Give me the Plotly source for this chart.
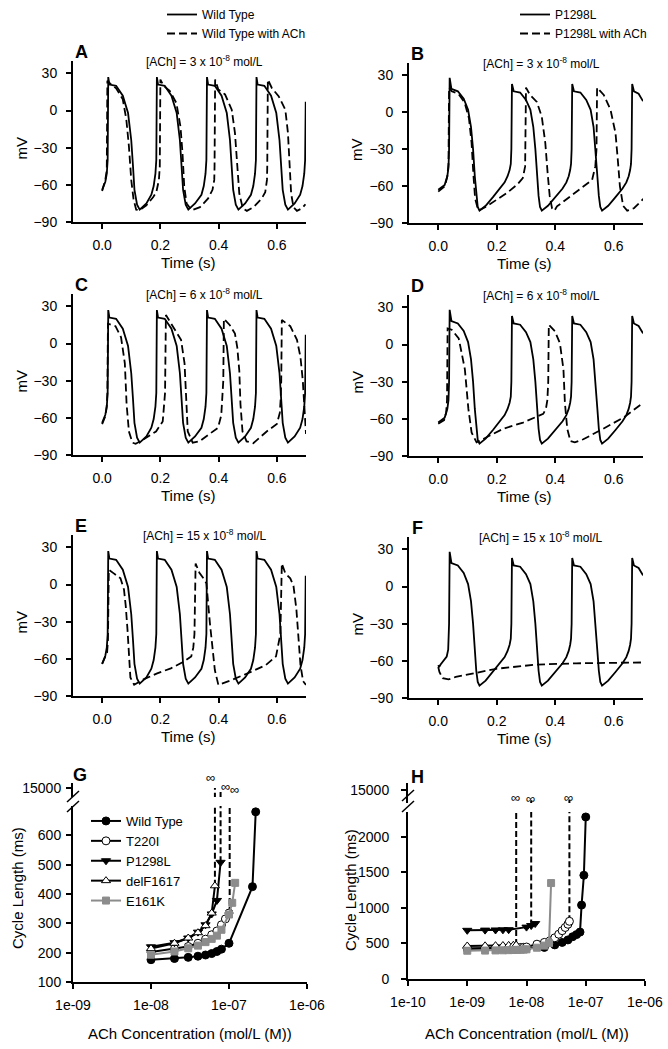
import math
import plotly.graph_objects as go

# ------------------------------------------------------------------ data
TIME_TICKS = [0.0, 0.2, 0.4, 0.6]
MV_TICKS = [-90, -60, -30, 0, 30]

# Wild type (control) action potentials, panels A, C, E
WT_T = [0.000, 0.011, 0.016, 0.019, 0.021, 0.025, 0.048, 0.071, 0.089, 0.100, 0.106, 0.111, 0.120, 0.129,
        0.152, 0.169, 0.177, 0.183,
        0.186, 0.188, 0.192, 0.215, 0.238, 0.256, 0.267, 0.273, 0.278, 0.287, 0.296, 0.319, 0.341, 0.349, 0.355,
        0.358, 0.360, 0.364, 0.387, 0.410, 0.428, 0.439, 0.445, 0.450, 0.459, 0.468, 0.491, 0.511, 0.519, 0.525,
        0.528, 0.530, 0.534, 0.557, 0.580, 0.598, 0.609, 0.615, 0.620, 0.629, 0.638, 0.661, 0.680, 0.688, 0.694,
        0.697, 0.699]
WT_V = [-64, -57.5, -51, -40, 27, 21, 20, 12, -2, -24, -45, -64, -76, -80,
        -75, -68, -61, -51,
        -40, 27, 21, 20, 12, -2, -24, -45, -64, -76, -80, -75, -68, -61, -51,
        -40, 27, 21, 20, 12, -2, -24, -45, -64, -76, -80, -75, -68, -61, -51,
        -40, 27, 21, 20, 12, -2, -24, -45, -64, -76, -80, -75, -68, -61, -51,
        -40, 7]

# P1298L action potentials, panels B, D (F has its own start)
P_T = [0.000, 0.022, 0.031, 0.035, 0.037, 0.039, 0.045, 0.067, 0.087, 0.102, 0.112, 0.119, 0.125, 0.130, 0.135,
       0.141, 0.162, 0.187, 0.212, 0.227, 0.237, 0.244, 0.248,
       0.250, 0.252, 0.258, 0.280, 0.300, 0.315, 0.325, 0.332, 0.338, 0.343, 0.348, 0.354, 0.375, 0.400, 0.425,
       0.438, 0.446, 0.451, 0.454,
       0.456, 0.458, 0.464, 0.486, 0.506, 0.521, 0.531, 0.538, 0.544, 0.549, 0.554, 0.560, 0.581, 0.606, 0.630,
       0.643, 0.651, 0.656, 0.659,
       0.661, 0.663, 0.669, 0.685, 0.700]
P_V = [-63, -59, -52, -45, -30, 28, 19, 17, 11, 2, -12, -30, -52, -68, -77,
       -80, -76, -69, -62, -57, -52, -47, -42,
       -30, 23, 17, 16, 10, 2, -12, -30, -52, -68, -77, -80, -76, -69, -62,
       -57, -52, -47, -42,
       -30, 23, 17, 16, 10, 2, -12, -30, -52, -68, -77, -80, -76, -69, -62,
       -57, -52, -47, -42,
       -30, 23, 17, 15, 9]
PF_START_T = [0.000, 0.003, 0.008, 0.015, 0.029, 0.034]
PF_START_V = [-63.5, -65, -63, -60.5, -56.5, -51]

# With ACh (dashed)
A_D_T = [0.000, 0.011, 0.016, 0.018, 0.031, 0.048, 0.071, 0.083, 0.092, 0.100, 0.108, 0.117, 0.129, 0.152,
         0.175, 0.186, 0.195, 0.198, 0.200, 0.211, 0.232, 0.255, 0.269, 0.276, 0.282, 0.290, 0.307, 0.336,
         0.364, 0.379, 0.385, 0.386, 0.388, 0.399, 0.422, 0.445, 0.456, 0.464, 0.471, 0.483, 0.497, 0.520,
         0.548, 0.560, 0.566, 0.567, 0.569, 0.583, 0.606, 0.629, 0.638, 0.644, 0.649, 0.657, 0.669, 0.686, 0.698]
A_D_V = [-65, -56, -48, 24, 21, 18, 9, -7, -29, -56, -72, -80, -80.5, -76.5,
         -70, -66, -56, -45, 25, 20, 16, 6, -13, -34.5, -61.6, -75, -80.5, -78,
         -71, -64, -56, -45, 25, 17, 13, 0.7, -18, -45, -67, -79, -81, -78,
         -71, -66, -56, -45, 25, 18, 11.6, 0.7, -18, -45, -67, -78, -81, -79, -75.7]

B_D_T = [0.000, 0.023, 0.031, 0.035, 0.037, 0.046, 0.069, 0.090, 0.105, 0.114, 0.120, 0.126, 0.137, 0.166,
         0.200, 0.234, 0.269, 0.289, 0.297, 0.300, 0.314, 0.337, 0.354, 0.366, 0.374, 0.381, 0.389, 0.397,
         0.406, 0.451, 0.497, 0.526, 0.537, 0.541, 0.543, 0.566, 0.589, 0.606, 0.614, 0.621, 0.632, 0.646,
         0.669, 0.703]
B_D_V = [-64.5, -60, -52, -42, 20, 17, 15, 8, -5, -25, -50, -70, -80, -76.5,
         -71, -65.7, -59, -53.6, -44, 20, 14, 8.4, -3.7, -25, -49.5, -68, -78, -80,
         -76.5, -68.4, -60, -55, -44, -30, 20, 14, 2, -17, -39, -60, -76, -80,
         -78, -70]

C_D_T = [0.000, 0.012, 0.016, 0.018, 0.020, 0.046, 0.065, 0.078, 0.084, 0.092, 0.104, 0.115, 0.138, 0.185,
         0.208, 0.213, 0.216, 0.219, 0.242, 0.271, 0.283, 0.288, 0.294, 0.311, 0.334, 0.363, 0.398, 0.409,
         0.413, 0.416, 0.418, 0.438, 0.456, 0.464, 0.471, 0.475, 0.482, 0.496, 0.519, 0.565, 0.600, 0.610,
         0.613, 0.615, 0.617, 0.646, 0.669, 0.681, 0.689, 0.694, 0.700]
C_D_V = [-65, -58, -50, -40, 16, 14, 5, -16, -49, -71, -80, -81, -78, -71,
         -63, -52, -40, 23, 14, 3, -16, -44, -71, -80, -79, -74, -68, -58,
         -45, -30, 20, 15, 8, -3, -22, -49, -71, -79, -80.5, -71, -65, -56,
         -45, -30, 19, 14, 3, -11, -30, -52, -73]

D_D_T = [0.000, 0.020, 0.027, 0.030, 0.032, 0.046, 0.070, 0.091, 0.103, 0.114, 0.131, 0.165, 0.222, 0.290,
         0.359, 0.368, 0.373, 0.376, 0.378, 0.399, 0.416, 0.428, 0.433, 0.441, 0.452, 0.467, 0.496, 0.564,
         0.633, 0.701]
D_D_V = [-64, -61, -55, -45, 13, 12, 5, -20, -52, -71, -79, -75, -68, -63,
         -56, -52, -45, -30, 16, 10.7, 1, -20, -47, -68, -78, -79, -76.5, -68,
         -59, -47]

E_D_T = [0.000, 0.017, 0.020, 0.023, 0.040, 0.063, 0.075, 0.081, 0.087, 0.092, 0.097, 0.110, 0.142, 0.189,
         0.236, 0.282, 0.306, 0.313, 0.317, 0.321, 0.334, 0.348, 0.358, 0.370, 0.378, 0.387, 0.399, 0.446,
         0.516, 0.562, 0.597, 0.603, 0.612, 0.617, 0.629, 0.646, 0.657, 0.667, 0.675, 0.681, 0.690, 0.700]
E_D_V = [-64, -55, -45, 12, 9, 5, -4, -17, -36, -58, -75, -81, -76.6, -71.7,
         -67.7, -62, -58, -51, -40, 17, 9.4, 5, 1, -31, -47, -69, -81, -77,
         -70, -65, -58, -51, -40, 17, 9, 5, -1, -20, -45, -65, -78, -81]

F_D_T = [0.000, 0.004, 0.015, 0.035, 0.060, 0.198, 0.335, 0.472, 0.700]
F_D_V = [-65, -69, -74, -75, -73, -66.4, -63, -62, -61.3]

PANEL_TITLES = ["[ACh] = 3 x 10<sup>-8</sup> mol/L", "[ACh] = 3 x 10<sup>-8</sup> mol/L",
                "[ACh] = 6 x 10<sup>-8</sup> mol/L", "[ACh] = 6 x 10<sup>-8</sup> mol/L",
                "[ACh] = 15 x 10<sup>-8</sup> mol/L", "[ACh] = 15 x 10<sup>-8</sup> mol/L"]

# Cycle length vs ACh, panel G
G_WT_X = [1e-8, 2e-8, 3e-8, 4e-8, 5e-8, 6e-8, 7e-8, 8e-8, 1e-7, 2e-7, 2.2e-7]
G_WT_Y = [176, 180, 184, 188, 192, 197, 204, 212, 232, 425, 680]
G_T220I_X = [1e-8, 2e-8, 3e-8, 4e-8, 5e-8, 6e-8, 7e-8, 8e-8, 9e-8, 1e-7]
G_T220I_Y = [202, 213, 221, 232, 246, 261, 274, 295, 315, 335]
G_P1298L_X = [1e-8, 2e-8, 3e-8, 4e-8, 5e-8, 6e-8, 7e-8, 7.8e-8]
G_P1298L_Y = [220, 234, 250, 270, 295, 332, 378, 508]
G_DELF_X = [1e-8, 2e-8, 3e-8, 4e-8, 5e-8, 6e-8, 6.6e-8]
G_DELF_Y = [214, 232, 250, 268, 292, 335, 428]
G_E161K_X = [1e-8, 2e-8, 3e-8, 4e-8, 5e-8, 6e-8, 7e-8, 8e-8, 1e-7, 1.1e-7, 1.2e-7]
G_E161K_Y = [193, 204, 215, 224, 236, 247, 258, 278, 330, 370, 438]
# arrest (infinite cycle length): delF1617, P1298L, T220I
G_INF_X = [6.6e-8, 7.8e-8, 1.02e-7]
G_INF_FROM = [428, 508, 335]
G_INF_TOP = [15000, 14900, 14100]

# Cycle length vs ACh, panel H
H_WT_X = [1e-9, 2e-9, 3e-9, 4e-9, 5e-9, 6e-9, 7e-9, 8e-9, 9e-9, 1e-8, 2e-8, 3e-8, 4e-8, 5e-8, 6e-8,
          7e-8, 8e-8, 8.5e-8, 9.3e-8, 1e-7]
H_WT_Y = [425, 427, 428, 429, 430, 431, 432, 433, 434, 435, 445, 480, 515, 550, 595, 625, 660, 1040, 1460, 2280]
H_T220I_X = [1e-9, 2e-9, 3e-9, 4e-9, 5e-9, 6e-9, 7e-9, 8e-9, 9e-9, 1e-8, 1.5e-8, 2e-8, 2.5e-8, 3e-8,
             3.5e-8, 4e-8, 4.5e-8, 5e-8, 5.3e-8]
H_T220I_Y = [430, 432, 434, 436, 438, 440, 442, 444, 446, 450, 490, 515, 540, 580, 630, 680, 725, 770, 812]
H_P1298L_X = [1e-9, 2e-9, 3e-9, 4e-9, 5e-9, 1e-8, 1.2e-8, 1.4e-8]
H_P1298L_Y = [685, 688, 690, 692, 694, 730, 752, 780]
H_DELF_X = [1e-9, 2e-9, 3e-9, 4e-9, 5e-9, 6e-9, 6.7e-9]
H_DELF_Y = [465, 467, 469, 471, 473, 475, 478]
H_E161K_X = [1e-9, 2e-9, 3e-9, 4e-9, 5e-9, 6e-9, 7e-9, 8e-9, 9e-9, 1e-8, 1.5e-8, 2e-8, 2.4e-8, 2.6e-8]
H_E161K_Y = [398, 400, 402, 404, 406, 408, 410, 412, 414, 418, 440, 470, 505, 1350]
H_INF_X = [6.7e-9, 1.2e-8, 5.3e-8]
H_INF_FROM = [478, 752, 812]
H_INF_TOP = [14000, 14000, 14000]

CONC_TICKS_G = [1e-9, 1e-8, 1e-7, 1e-6]
CONC_TICKS_H = [1e-10, 1e-9, 1e-8, 1e-7, 1e-6]

# ------------------------------------------------------------------ layout helpers
W, H = 668, 1049
FONT = "Liberation Sans, Arial, Helvetica, sans-serif"
BLACK = "#000000"
GRAY = "#8c8c8c"
DASH = "8px,4px"


def fx(p):
    return p / W


def fy(p):
    return 1 - p / H


fig = go.Figure()
layout = dict(template="none", width=W, height=H, autosize=False, margin=dict(l=0, r=0, t=0, b=0, pad=0),
              paper_bgcolor="white", plot_bgcolor="white",
              font=dict(family=FONT, color=BLACK, size=14))
annotations = []
shapes = []

COMMON_AX = dict(ticks="outside", ticklen=5, tickwidth=1.5, tickcolor=BLACK, showline=True, linewidth=2,
                 linecolor=BLACK, showgrid=False, zeroline=False, automargin=False, tickfont=dict(size=14))

# panel boxes: letter, axis index, x0, x1, ytop, ybot
AP_PANELS = [("A", 1, 73, 306, 61, 222), ("B", 2, 409, 643, 63, 223),
             ("C", 3, 73, 306, 294, 455), ("D", 4, 409, 643, 295, 456),
             ("E", 5, 73, 306, 535, 696), ("F", 6, 409, 643, 537, 698)]

PF_T = PF_START_T + P_T[4:]
PF_V = PF_START_V + P_V[4:]
solid_data = {"A": (WT_T, WT_V), "C": (WT_T, WT_V), "E": (WT_T, WT_V),
              "B": (P_T, P_V), "D": (P_T, P_V), "F": (PF_T, PF_V)}
dash_data = {"A": (A_D_T, A_D_V), "B": (B_D_T, B_D_V), "C": (C_D_T, C_D_V),
             "D": (D_D_T, D_D_V), "E": (E_D_T, E_D_V), "F": (F_D_T, F_D_V)}

for k, (letter, i, x0, x1, yt, yb) in enumerate(AP_PANELS):
    sx = "" if i == 1 else str(i)
    xa = dict(COMMON_AX, domain=[fx(x0), fx(x1)], range=[-0.1, 0.7], anchor="y" + sx,
              tickvals=TIME_TICKS, ticktext=["%.1f" % v for v in TIME_TICKS], ticklabelstandoff=4)
    ya = dict(COMMON_AX, domain=[fy(yb), fy(yt)], range=[-90, 40], anchor="x" + sx,
              tickvals=MV_TICKS, ticklabelstandoff=6)
    layout["xaxis" + sx] = xa
    layout["yaxis" + sx] = ya

    left = (i % 2 == 1)
    leg = "legend2" if left else "legend3"
    base = "Wild Type" if left else "P1298L"
    st, sv = solid_data[letter]
    dt, dv = dash_data[letter]
    fig.add_trace(go.Scatter(x=st, y=sv, mode="lines", name=base, legend=leg,
                             showlegend=(letter in ("A", "B")),
                             line=dict(color=BLACK, width=1.8), xaxis="x" + sx, yaxis="y" + sx))
    fig.add_trace(go.Scatter(x=dt, y=dv, mode="lines", name=base + " with ACh", legend=leg,
                             showlegend=(letter in ("A", "B")),
                             line=dict(color=BLACK, width=1.8, dash=DASH), xaxis="x" + sx, yaxis="y" + sx))

    annotations.append(dict(text="<b>%s</b>" % letter, x=fx(x0 + 8), y=fy(yt - 9), xref="paper", yref="paper",
                            showarrow=False, font=dict(size=18), xanchor="center", yanchor="middle"))
    annotations.append(dict(text=PANEL_TITLES[k], x=fx((x0 + x1) / 2 + 15), y=fy(yt), xref="paper",
                            yref="paper", showarrow=False, font=dict(size=12), xanchor="center",
                            yanchor="middle"))
    annotations.append(dict(text="mV", x=fx(x0 - 52), y=fy((yt + yb) / 2 + 7), xref="paper", yref="paper",
                            showarrow=False, textangle=-90, font=dict(size=15), xanchor="center",
                            yanchor="middle"))
    annotations.append(dict(text="Time (s)", x=fx((x0 + x1) / 2 - 2), y=fy(yb + 40), xref="paper",
                            yref="paper", showarrow=False, font=dict(size=15), xanchor="center",
                            yanchor="middle"))


# ------------------------------------------------------------------ G and H
def conc_axes(xi, yl, yu, x0, x1, ybot, ytop_low, ytop_up, ybot_up, yrange, yticks, p15, ticks_x, xrange,
              stand):
    sx, sl, su = str(xi), str(yl), str(yu)
    layout["xaxis" + sx] = dict(COMMON_AX, domain=[fx(x0), fx(x1)], type="log", range=xrange, anchor="y" + sl,
                                tickvals=ticks_x, ticktext=["%.0e" % v for v in ticks_x],
                                ticklabelstandoff=4)
    layout["yaxis" + sl] = dict(COMMON_AX, domain=[fy(ybot), fy(ytop_low)], range=yrange, anchor="x" + sx,
                                tickvals=yticks, ticklabelstandoff=stand)
    per_px = 100.0
    layout["yaxis" + su] = dict(COMMON_AX, domain=[fy(ybot_up), fy(ytop_up)],
                                range=[15000 - (ybot_up - p15) * per_px, 15000 + (p15 - ytop_up) * per_px],
                                anchor="x" + sx, tickvals=[15000], ticktext=["15000"],
                                ticklabelstandoff=stand)


# G: x7 / y7 (lower) / y8 (upper)
conc_axes(7, 7, 8, 73, 307, 982, 806, 783, 797, [100, 700], [100, 200, 300, 400, 500, 600], 788,
          CONC_TICKS_G, [-9, -6], 2)
# H: x9 / y9 (lower) / y10 (upper)
conc_axes(9, 9, 10, 408, 645, 979, 812, 783, 803, [0, 2350], [0, 500, 1000, 1500, 2000], 790,
          CONC_TICKS_H, [-10, -6], 9)

SERIES_STYLE = {
    "Wild Type": dict(color=BLACK, marker=dict(symbol="circle", size=8, color=BLACK,
                                                line=dict(color=BLACK, width=1))),
    "T220I": dict(color=BLACK, marker=dict(symbol="circle", size=8, color="white",
                                            line=dict(color=BLACK, width=1))),
    "P1298L": dict(color=BLACK, marker=dict(symbol="triangle-down", size=8, color=BLACK,
                                             line=dict(color=BLACK, width=1))),
    "delF1617": dict(color=BLACK, marker=dict(symbol="triangle-up", size=8, color="white",
                                               line=dict(color=BLACK, width=1))),
    "E161K": dict(color=GRAY, marker=dict(symbol="square", size=7, color=GRAY,
                                           line=dict(color=GRAY, width=1))),
}

G_SERIES = [("Wild Type", G_WT_X, G_WT_Y), ("T220I", G_T220I_X, G_T220I_Y),
            ("P1298L", G_P1298L_X, G_P1298L_Y), ("delF1617", G_DELF_X, G_DELF_Y),
            ("E161K", G_E161K_X, G_E161K_Y)]
H_SERIES = [("Wild Type", H_WT_X, H_WT_Y), ("T220I", H_T220I_X, H_T220I_Y),
            ("P1298L", H_P1298L_X, H_P1298L_Y), ("delF1617", H_DELF_X, H_DELF_Y),
            ("E161K", H_E161K_X, H_E161K_Y)]

# placement of the infinity sign above each arrest line (pixel offsets)
G_INF_SHIFT = [(-4, 11), (5, 3), (5, 8)]
H_INF_SHIFT = [(-1, 3), (-1, 2), (-1, 3)]


def add_conc(series, xa, ya, ya_up, inf_x, inf_from, inf_top, shifts, show):
    for xv, yv, top in zip(inf_x, inf_from, inf_top):
        for yaxis in (ya, ya_up):
            fig.add_trace(go.Scatter(x=[xv, xv], y=[yv, top], mode="lines", showlegend=False,
                                     line=dict(color=BLACK, width=2, dash="6px,3px"),
                                     xaxis=xa, yaxis=yaxis, hoverinfo="skip"))
    for name, xs, ys in series:
        st = SERIES_STYLE[name]
        fig.add_trace(go.Scatter(x=xs, y=ys, mode="lines+markers", name=name, showlegend=show,
                                 legend="legend", line=dict(color=st["color"], width=2),
                                 marker=st["marker"], xaxis=xa, yaxis=ya))
    for xv, top, (dx, dy) in zip(inf_x, inf_top, shifts):
        annotations.append(dict(text="∞", x=math.log10(xv), y=top, xref=xa, yref=ya_up,
                                showarrow=False, font=dict(size=13), xanchor="center", yanchor="middle",
                                xshift=dx, yshift=dy))


add_conc(G_SERIES, "x7", "y7", "y8", G_INF_X, G_INF_FROM, G_INF_TOP, G_INF_SHIFT, True)
add_conc(H_SERIES, "x9", "y9", "y10", H_INF_X, H_INF_FROM, H_INF_TOP, H_INF_SHIFT, False)

for letter, xpx, ypx in [("G", 80, 775), ("H", 417, 777)]:
    annotations.append(dict(text="<b>%s</b>" % letter, x=fx(xpx), y=fy(ypx), xref="paper", yref="paper",
                            showarrow=False, font=dict(size=18), xanchor="center", yanchor="middle"))
for xpx, ypx in [(17, 888), (350, 890)]:
    annotations.append(dict(text="Cycle Length (ms)", x=fx(xpx), y=fy(ypx), xref="paper", yref="paper",
                            showarrow=False, textangle=-90, font=dict(size=15), xanchor="center",
                            yanchor="middle"))
for xpx in (190, 527):
    annotations.append(dict(text="ACh Concentration (mol/L (M))", x=fx(xpx), y=fy(1033), xref="paper",
                            yref="paper", showarrow=False, font=dict(size=15), xanchor="center",
                            yanchor="middle"))

# axis break marks
for (ax0, ay0, ax1, ay1) in [(67, 802, 79, 791), (67, 812, 79, 801), (402, 801, 414, 790), (402, 812, 414, 801)]:
    shapes.append(dict(type="line", xref="paper", yref="paper", x0=fx(ax0), y0=fy(ay0), x1=fx(ax1),
                       y1=fy(ay1), line=dict(color=BLACK, width=1.5)))

layout["annotations"] = annotations
layout["shapes"] = shapes
layout["legend"] = dict(x=fx(86), y=fy(806), xanchor="left", yanchor="top", bgcolor="rgba(0,0,0,0)",
                        font=dict(size=13), tracegroupgap=0, itemwidth=30)
layout["legend2"] = dict(x=fx(162), y=fy(0), xanchor="left", yanchor="top", bgcolor="rgba(0,0,0,0)",
                         font=dict(size=12), itemwidth=30)
layout["legend3"] = dict(x=fx(515), y=fy(0), xanchor="left", yanchor="top", bgcolor="rgba(0,0,0,0)",
                         font=dict(size=12), itemwidth=30)
fig.update_layout(**layout)
fig.write_html("out.html", config={"displayModeBar": False},
               post_script="document.body.style.margin='0';")
